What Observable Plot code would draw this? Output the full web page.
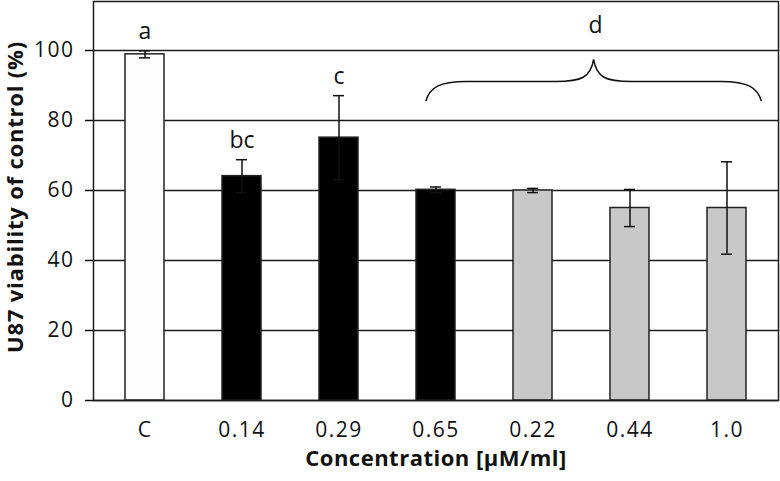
<!DOCTYPE html>
<html><head><meta charset="utf-8">
<script src="https://cdn.jsdelivr.net/npm/d3@7"></script>
<script src="https://cdn.jsdelivr.net/npm/@observablehq/plot@0.6"></script>
<style>
body{margin:0;background:#fff}
svg{font-family:"Open Sans",sans-serif}
g[aria-label="x-axis"] text, g[aria-label="y-axis"] text,
g[aria-label="x-axis tick label"] text, g[aria-label="y-axis tick label"] text{letter-spacing:1.5px}
g[aria-label="y-axis"] line, g[aria-label="y-axis"] path,
g[aria-label="y-axis tick"] path{stroke-width:1.5}
</style>
</head><body><div id="chart"></div>
<script>
const categories = ["C", "0.14", "0.29", "0.65", "0.22", "0.44", "1.0"];
const means      = [98.9, 64.1, 75.1, 60.2, 60.0, 55.0, 55.0];
const errors     = [1.0, 4.7, 12.0, 0.8, 0.6, 5.3, 13.2];
const groups     = ["control", "black", "black", "black", "gray", "gray", "gray"];
const letters    = ["a", "bc", "c", "", "", "", ""];
const yTicks     = [0, 20, 40, 60, 80, 100];
const bracketLabel = "d";
const bracketFrom = "0.65";
const bracketTo = "1.0";
const yLabel = "U87 viability of control (%)";
const xLabel = "Concentration [\u00b5M/ml]";

const data = categories.map((c, i) => ({cat: c, mean: means[i], err: errors[i], group: groups[i], letter: letters[i]}));

function brace(index, scales) {
  const x = scales.x, y = scales.y;
  const step = x(categories[1]) - x(categories[0]);
  const L = x(bracketFrom) + 0.40 * step;
  const R = x(bracketTo) + 0.86 * step;
  const M = (L + R) / 2;
  const yEnd = y(85.4), yFlat = y(91.0), yPeak = y(97.3);
  const p = `M${L},${yEnd} C${L + 4},${yFlat + 6} ${L + 14},${yFlat} ${L + 40},${yFlat}`
    + ` L${M - 38},${yFlat} C${M - 12},${yFlat} ${M - 3},${yFlat - 4} ${M},${yPeak}`
    + ` C${M + 3},${yFlat - 4} ${M + 12},${yFlat} ${M + 38},${yFlat}`
    + ` L${R - 40},${yFlat} C${R - 14},${yFlat} ${R - 4},${yFlat + 6} ${R},${yEnd}`;
  const g = d3.create("svg:g");
  g.append("path").attr("d", p).attr("fill", "none").attr("stroke", "#111").attr("stroke-width", 1.5);
  g.append("text").attr("x", M + 2).attr("y", y(107.1)).attr("dy", "0.32em")
    .attr("text-anchor", "middle").attr("font-size", 23).attr("fill", "#111").text(bracketLabel);
  return g.node();
}

const chart = Plot.plot({
  width: 780,
  height: 481,
  marginLeft: 93,
  marginRight: 2,
  marginTop: 1,
  marginBottom: 81,
  style: {fontSize: "21px", fontFamily: "'Open Sans', sans-serif", color: "#111", background: "#fff"},
  x: {domain: categories, padding: 0, tickSize: 0, tickPadding: 22, label: null},
  y: {domain: [0, 114], ticks: yTicks, tickSize: 8, tickPadding: 11, label: null},
  color: {domain: ["control", "black", "gray"], range: ["#fdfdfd", "#000000", "#c8c8c8"]},
  marks: [
    Plot.ruleY(yTicks, {stroke: "#1a1a1a", strokeWidth: 1.5}),
    Plot.barY(data, {x: "cat", y: "mean", fill: "group", stroke: "#222", strokeWidth: 1.5, insetLeft: 29, insetRight: 29}),
    Plot.ruleX(data, {x: "cat", y1: d => d.mean - d.err, y2: d => d.mean + d.err, stroke: "#111", strokeWidth: 1.5}),
    Plot.tickY(data, {x: "cat", y: d => d.mean + d.err, stroke: "#111", strokeWidth: 1.5, insetLeft: 43, insetRight: 43}),
    Plot.tickY(data, {x: "cat", y: d => d.mean - d.err, stroke: "#111", strokeWidth: 1.5, insetLeft: 43, insetRight: 43}),
    Plot.text(data.filter(d => d.letter), {x: "cat", y: d => d.mean + d.err, text: "letter", dy: -19, fontSize: 23, fill: "#111"}),
    brace,
    Plot.frame({stroke: "#1a1a1a", strokeWidth: 1.5}),
    Plot.text([yLabel], {frameAnchor: "left", textAnchor: "middle", dx: -78, dy: -4, rotate: -90, fontSize: 22, fontWeight: "bold", fill: "#111"}),
    Plot.text([xLabel], {frameAnchor: "bottom", dy: 65, fontSize: 22, fontWeight: "bold", fill: "#111"})
  ]
});
chart.querySelectorAll("text").forEach(t => {
  if (t.textContent === yLabel) t.setAttribute("letter-spacing", "0.8");
  if (t.textContent === xLabel) t.setAttribute("letter-spacing", "0.5");
});
document.getElementById("chart").append(chart);
</script>
</body></html>
